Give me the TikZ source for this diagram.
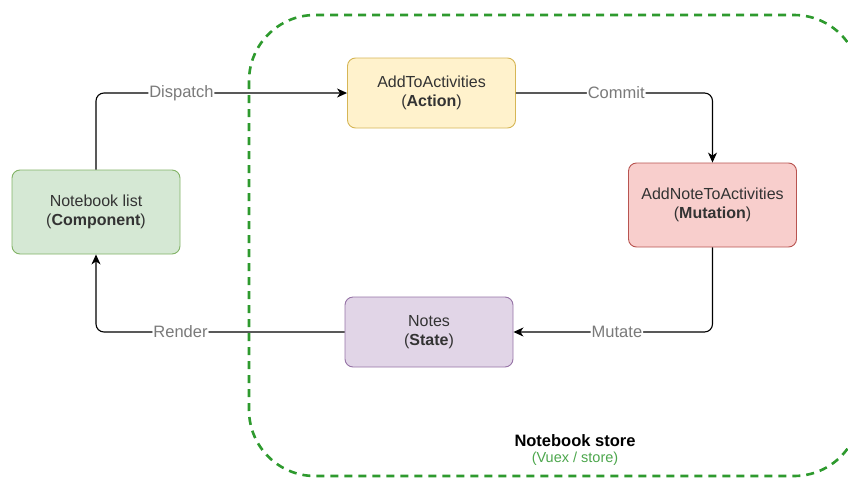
\documentclass[tikz,border=0pt]{standalone}
\usepackage{fontspec}
\setmainfont{Liberation Sans}
\usetikzlibrary{arrows.meta}

\definecolor{txt}{HTML}{333333}
\definecolor{lbl}{HTML}{7A7A7A}
\definecolor{storegreen}{HTML}{2E9A2E}
\definecolor{vuexgreen}{HTML}{4CA64C}
\definecolor{gfill}{HTML}{D5E8D4}\definecolor{gline}{HTML}{82B366}
\definecolor{yfill}{HTML}{FFF2CC}\definecolor{yline}{HTML}{D6B656}
\definecolor{rfill}{HTML}{F8CECC}\definecolor{rline}{HTML}{B85450}
\definecolor{pfill}{HTML}{E1D5E7}\definecolor{pline}{HTML}{9673A6}

\tikzset{
  box/.style={rounded corners=8pt, minimum width=168pt, text=txt,
    align=center, line width=0.9pt, font=\fontsize{16}{19}\selectfont},
  flow/.style={draw=black, line width=1.1pt, rounded corners=8pt,
    -{Stealth[length=10pt,width=9pt,inset=3pt]}},
  flowlabel/.style={fill=white, text=lbl, inner sep=1pt,
    font=\fontsize{16.5}{19}\selectfont},
}

\begin{document}
\begin{tikzpicture}[x=1pt, y=-1pt]
  \useasboundingbox (0,0) rectangle (848,477);

  % store boundary
  \draw[storegreen, line width=2.6pt, dash pattern=on 8pt off 6pt,
        rounded corners=66pt] (249,15) rectangle (860,476);
  \node[font=\bfseries\fontsize{16.5}{19}\selectfont, text=black] (storetitle) at (575,441) {Notebook store};
  \node[font=\fontsize{14.5}{17}\selectfont, text=vuexgreen] (storesub) at (575,459) {(Vuex / store)};

  % components
  \node[box, draw=gline, fill=gfill, minimum height=84pt] (nb) at (96,212)
    {Notebook list\\(\textbf{Component})};
  \node[box, draw=yline, fill=yfill, minimum height=70pt] (act) at (431.5,93)
    {AddToActivities\\(\textbf{Action})};
  \node[box, draw=rline, fill=rfill, minimum height=84pt] (mut) at (712.5,205)
    {AddNoteToActivities\\(\textbf{Mutation})};
  \node[box, draw=pline, fill=pfill, minimum height=70pt] (st) at (429,332)
    {Notes\\(\textbf{State})};

  % data flow
  \draw[flow] (nb.north) |- node[flowlabel, pos=0.67] {Dispatch} (act.west);
  \draw[flow] (act.east) -| node[flowlabel, pos=0.255] {Commit} (mut.north);
  \draw[flow] (mut.south) |- node[flowlabel, pos=0.74] {Mutate} (st.east);
  \draw[flow] (st.west) -| node[flowlabel, pos=0.33] {Render} (nb.south);
\end{tikzpicture}
\end{document}
